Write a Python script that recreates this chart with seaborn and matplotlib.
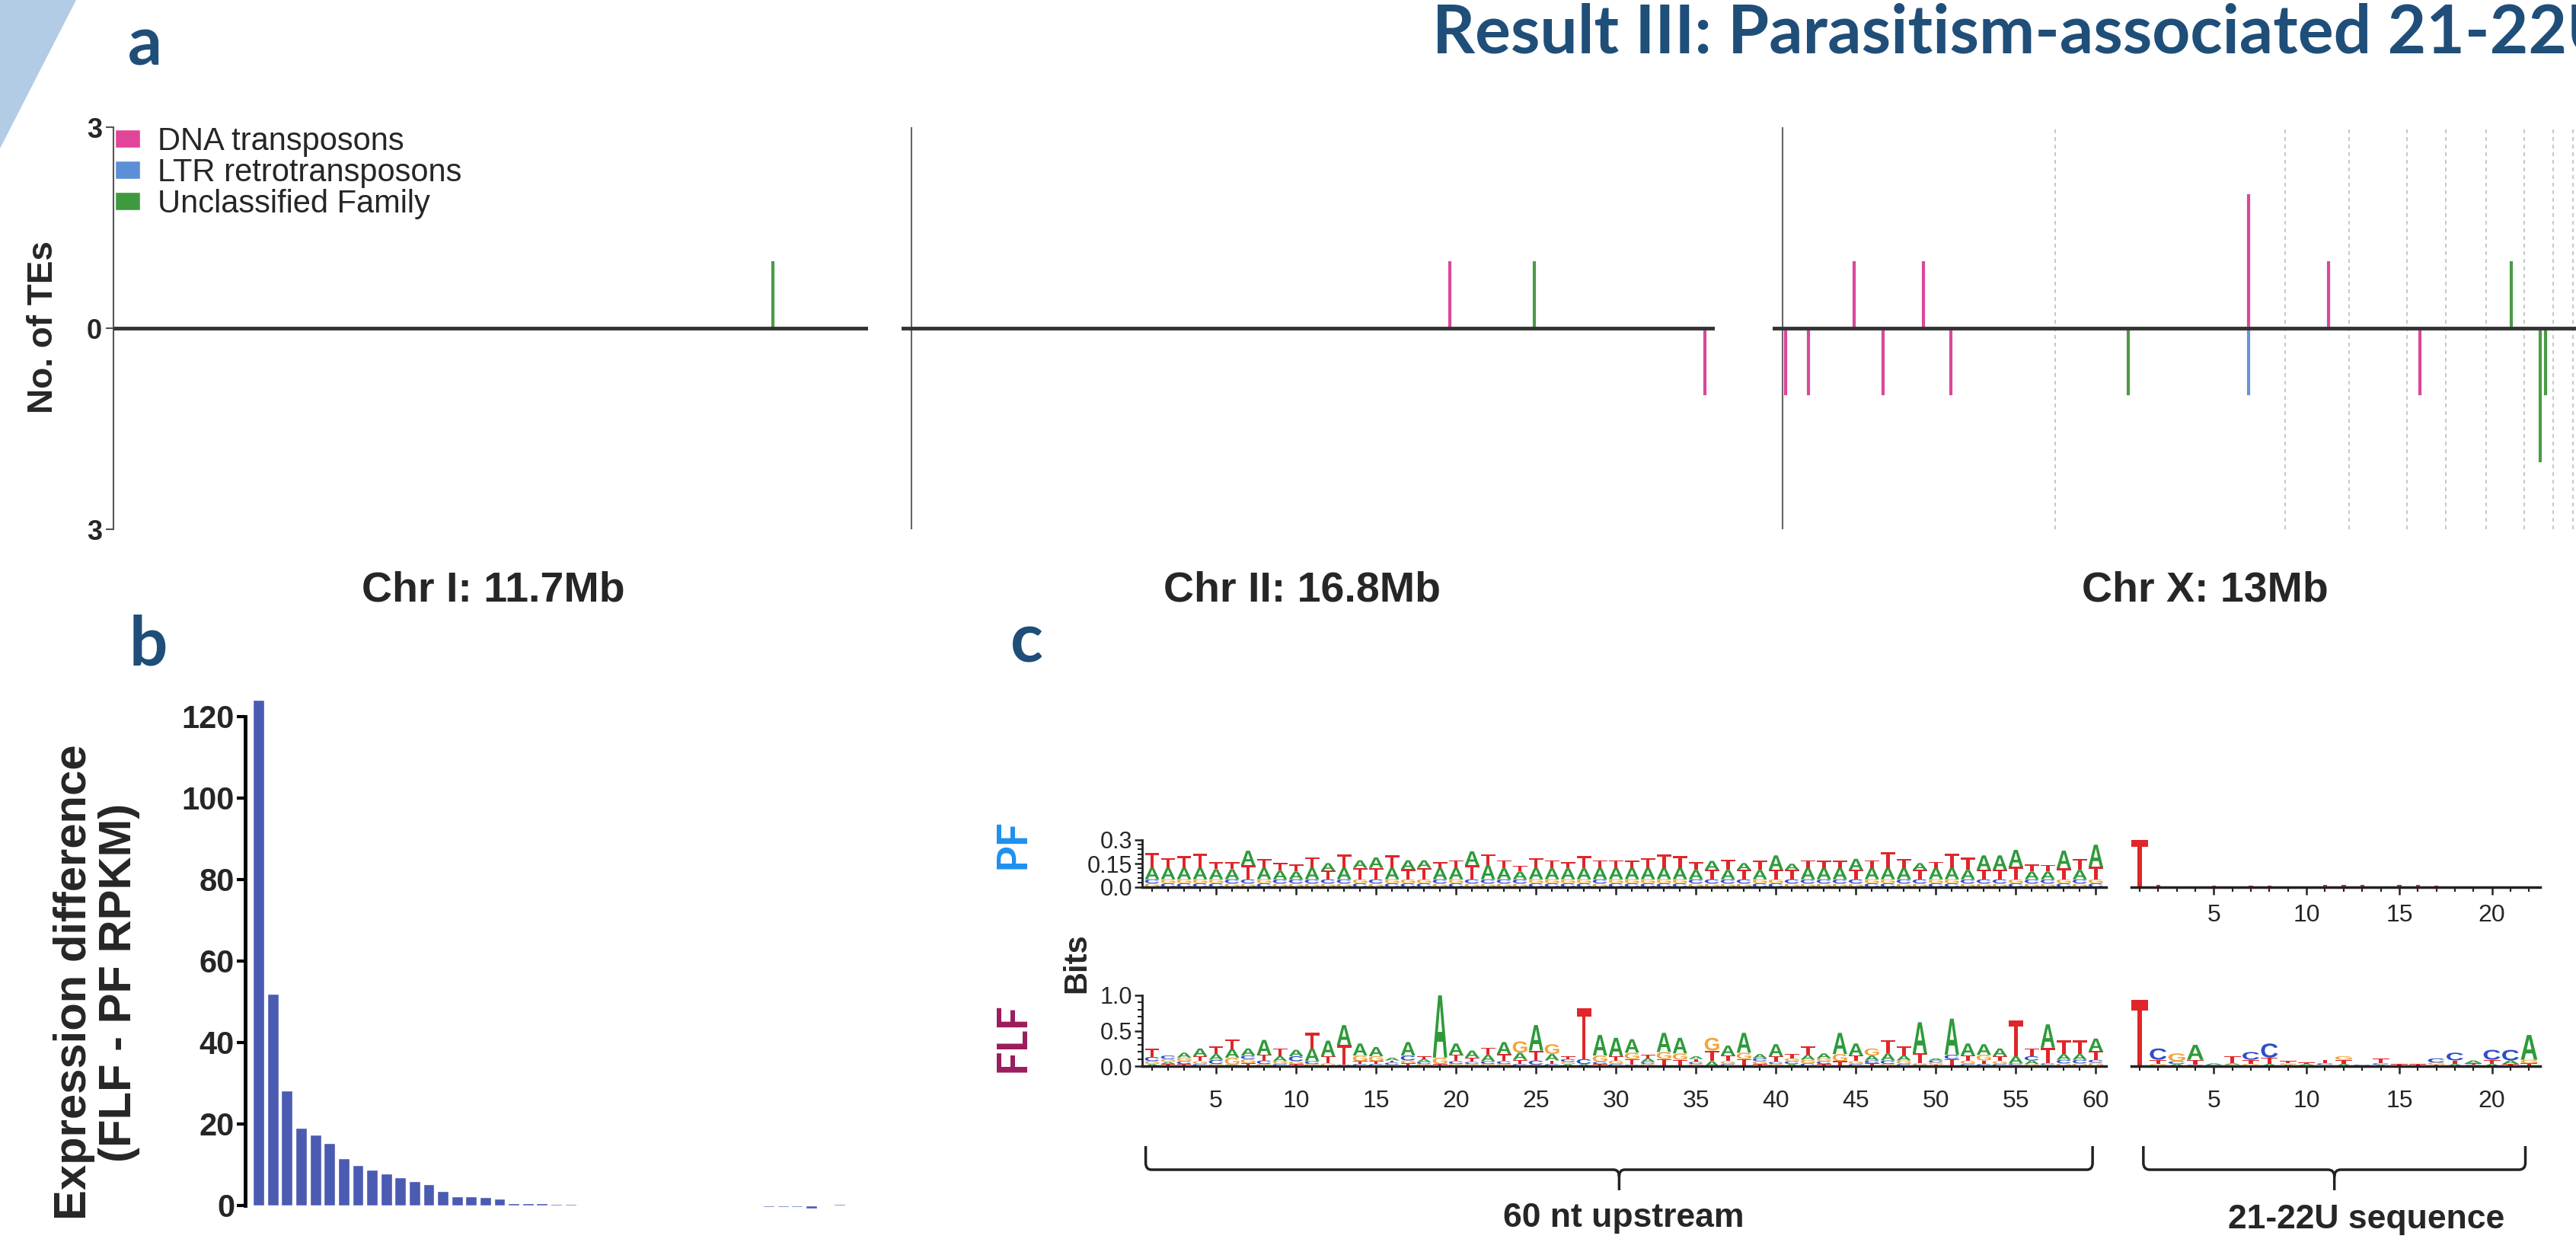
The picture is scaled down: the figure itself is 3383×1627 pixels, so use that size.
import numpy as np
import pandas as pd
import seaborn as sns
import matplotlib
matplotlib.use("Agg")
from matplotlib import pyplot as plt
from matplotlib import font_manager
from matplotlib.patches import PathPatch, Polygon, Patch
from matplotlib.path import Path
from matplotlib.textpath import TextPath
from matplotlib.font_manager import FontProperties
from matplotlib.transforms import Affine2D, blended_transform_factory
from matplotlib.ticker import MultipleLocator

W, H = 3383, 1627

# ---------------- data ----------------
TITLE = "Result III: Parasitism-associated 21-22U RNAs"

TE_TYPES = ["DNA transposons", "LTR retrotransposons", "Unclassified Family"]
TE_COLORS = {"DNA transposons": "#D9489A", "LTR retrotransposons": "#6B93D6",
             "Unclassified Family": "#4A9B47"}
LEGEND_COLORS = ["#E2449A", "#5D8FD8", "#3F9A3F"]

CHR_NAMES = ["Chr I: 11.7Mb", "Chr II: 16.8Mb", "Chr X: 13Mb"]
# TE positions (Mb), signed counts (+ above, - below the line), TE class
CHR1_POS = [10.23]
CHR1_COUNT = [1]
CHR1_TYPE = ["Unclassified Family"]
CHR2_POS = [11.26, 13.03, 16.60]
CHR2_COUNT = [1, 1, -1]
CHR2_TYPE = ["DNA transposons", "Unclassified Family", "DNA transposons"]
CHRX_POS = [0.05, 0.42, 1.15, 1.62, 2.27, 2.71, 5.57, 7.51, 7.51, 8.80, 10.27, 11.75, 12.21, 12.30]
CHRX_COUNT = [-1, -1, 1, -1, 1, -1, -1, 2, -1, 1, -1, 1, -2, -1]
CHRX_TYPE = ["DNA transposons"] * 6 + ["Unclassified Family", "DNA transposons",
             "LTR retrotransposons", "DNA transposons", "DNA transposons",
             "Unclassified Family", "Unclassified Family", "Unclassified Family"]
CHRX_DASHED = [4.39, 8.10, 9.13, 10.07, 10.69, 11.34, 11.96, 12.42, 12.74]

# panel b: FLF - PF RPKM, sorted
EXPR_DIFF = [124, 52, 28.3, 19, 17.3, 15.3, 11.6, 9.9, 8.7, 7.9, 6.9, 5.9, 5.2, 3.6,
             2.3, 2.3, 2.0, 1.6, 0.6, 0.5, 0.5, 0.4, 0.3, 0.2, 0.2, 0.2, 0.2,
             0, 0, 0, 0, -0.2, -0.2, -0.2, -0.2, -0.2, -0.3, -0.3, -0.3, -0.8, 0, 0.4]
B_TICKS = [0, 20, 40, 60, 80, 100, 120]

# panel c: PF upstream logo (bits) -- top letter, total height, top of 2nd letter
PF_TOP = "TTTTTTATTT" "TATAATAATT" "ATTTTTTTTT" "TTTTTATATA" "ATTTATTTAT" "TTAAATTATA"
PF_TOTAL = [.218, .182, .197, .215, .158, .158, .232, .180, .153, .145,
            .189, .153, .206, .171, .189, .202, .171, .171, .158, .171,
            .228, .210, .171, .136, .184, .171, .158, .197, .171, .171,
            .167, .182, .210, .197, .158, .167, .174, .153, .171, .202,
            .149, .171, .167, .167, .180, .171, .224, .177, .153, .162,
            .215, .189, .202, .202, .237, .145, .140, .232, .180, .270]
PF_MID = [.123, .123, .123, .123, .114, .114, .140, .123, .105, .100,
          .123, .105, .123, .123, .123, .123, .114, .123, .123, .123,
          .140, .140, .120, .100, .123, .120, .120, .120, .123, .123,
          .123, .123, .123, .123, .110, .110, .110, .110, .110, .110,
          .110, .123, .123, .123, .110, .123, .123, .123, .110, .123,
          .123, .110, .110, .110, .130, .100, .100, .120, .110, .130]
PF_SMALL_TOP = "CGGGGCCGCC" "CCCGCGGGCG" "CCCCGGGGCG" "GGGGCCCCGG" "CCCCCGGCCG" "GCCCGCCGCG"

# FLF upstream logo: letters bottom -> top with heights (bits)
FLF_STACKS = [
    "A.03 G.04 C.06 T.12", "T.03 A.03 G.04 C.05", "T.03 C.04 G.05 A.07", "C.03 G.04 T.07 A.11",
    "G.03 C.06 A.08 T.11", "C.02 G.10 A.12 T.14", "T.04 G.06 C.05 A.10", "G.03 C.05 T.08 A.21",
    "C.03 G.04 A.07 T.11", "T.03 G.04 C.07 A.09", "G.03 C.04 A.18 T.22", "G.04 T.10 A.22",
    "C.02 T.28 A.28", "C.03 T.04 G.08 A.17", "C.03 T.04 G.07 A.13", "G.02 C.03 T.03 A.04",
    "T.04 G.04 C.07 A.19", "G.03 C.03 A.04 T.04", "T.03 G.09 A.88", "G.03 C.04 T.09 A.16",
    "G.03 C.03 T.06 A.10", "G.03 C.04 A.09 T.10", "G.03 C.04 T.10 A.17", "C.03 T.06 A.10 G.16",
    "G.02 C.06 T.14 A.36", "C.03 T.05 A.09 G.14", "A.03 G.03 C.04 T.04", "A.03 C.07 T.72",
    "T.03 C.03 G.09 A.29", "C.03 G.05 T.06 A.26", "C.02 T.08 G.09 A.19", "G.03 C.03 A.05 T.05",
    "T.10 G.10 A.27", "T.09 G.09 A.22", "G.03 C.03 T.04 A.04", "A.07 T.15 G.18",
    "C.03 G.04 T.08 A.14", "T.10 G.09 A.28", "T.03 G.04 C.04 A.06", "G.03 C.03 T.08 A.17",
    "A.03 C.04 G.04 T.06", "C.04 G.05 A.07 T.12", "T.03 C.04 G.04 A.07", "T.07 G.10 A.30",
    "C.03 G.04 T.08 A.17", "T.04 C.04 A.07 G.10", "G.03 C.05 A.10 T.19", "C.03 G.05 A.07 T.13",
    "C.02 G.02 T.14 A.44", "T.02 G.03 C.03 A.03", "T.10 C.06 A.51", "C.03 G.05 T.07 A.17",
    "C.03 T.05 G.08 A.15", "C.03 G.04 T.07 A.11", "G.02 C.02 A.10 T.50", "G.03 A.05 C.06 T.11",
    "G.02 C.02 T.22 A.33", "G.04 C.05 A.08 T.20", "G.04 C.05 A.08 T.20", "G.05 C.04 T.12 A.18",
]

# 21-22U sequence logos
PF_SEQ_STACKS = [
    "T.305", "C.004 T.010", "T.006", "T.004", "A.004 T.006", "T.006", "G.004 T.008",
    "A.004 T.008", "T.004", "T.004", "C.004 T.010", "A.004 T.010", "C.004 T.010", "T.006",
    "C.004 T.010", "A.004 T.010", "C.004 T.008", "T.006", "T.004", "T.006", "T.006", "T.004",
]
FLF_SEQ_STACKS = [
    "T.94", "G.03 T.06 C.16", "A.03 C.04 G.11", "C.02 T.07 A.21", "T.01 C.01 A.02",
    "G.02 A.02 T.10", "G.03 T.06 C.11", "A.03 T.09 C.20", "A.02 G.02 T.03", "C.01 A.02 T.02",
    "G.02 C.02 T.05", "A.03 T.06 G.05", "T.01 C.01", "A.02 C.02 T.07", "C.01 T.02",
    "A.01 T.02", "T.02 G.03 C.06", "A.03 T.05 C.11", "C.02 T.02 A.04", "A.03 T.06 C.14",
    "T.03 A.05 C.15", "T.04 G.05 A.35",
]

LETTER_COLORS = {"A": "#2E9A3A", "C": "#2D4FC8", "G": "#F2A33A", "T": "#E0262A"}

# ---------------- style ----------------
sns.set_theme(style="white")
plt.rcParams["font.family"] = ["Liberation Sans", "DejaVu Sans"]
names = {f.name for f in font_manager.fontManager.ttflist}
NARROW = "Liberation Sans Narrow" if "Liberation Sans Narrow" in names else "Liberation Sans"
NAVY = "#1F4E79"

fig = plt.figure(figsize=(W / 100, H / 100), dpi=100)
fig.patch.set_facecolor("white")


def ax_at(x0, y0, x1, y1):
    ax = fig.add_axes([x0 / W, 1 - y1 / H, (x1 - x0) / W, (y1 - y0) / H])
    ax.set_facecolor("none")
    return ax


def ftext(x, y, s, **kw):
    return fig.text(x / W, 1 - y / H, s, **kw)


# slide decoration + title
over = ax_at(0, 0, W, H)
over.set_xlim(0, W)
over.set_ylim(H, 0)
over.axis("off")
over.add_patch(Polygon([(0, 0), (100, 0), (0, 195)], closed=True, fc="#B3CCE6", ec="none"))
ftext(1881, 70, TITLE, fontsize=63, fontweight="bold", color=NAVY,
      family=["Lato", "DejaVu Sans"], va="baseline", ha="left")
for lab, x, y in [("a", 168, 85), ("b", 170, 874), ("c", 1327, 870)]:
    ftext(x, y, lab, fontsize=64, fontweight="bold", color=NAVY,
          family=["Lato", "DejaVu Sans"], va="baseline", ha="left")

# ---------------- panel a ----------------
ax1 = ax_at(149, 167, 1140, 695)
ax2 = ax_at(1184, 167, 2252, 695)
ax3 = ax_at(2328, 167, 3383, 695)
chr_data = [(ax1, (0, 11.7), CHR1_POS, CHR1_COUNT, CHR1_TYPE),
            (ax2, (-0.21, 16.8), CHR2_POS, CHR2_COUNT, CHR2_TYPE),
            (ax3, (-0.16, 12.79), CHRX_POS, CHRX_COUNT, CHRX_TYPE)]
for ax, xl, pos, cnt, typ in chr_data:
    ax.set_xlim(*xl)
    ax.set_ylim(-3, 3)
    for s in ax.spines.values():
        s.set_visible(False)
    ax.set_xticks([])
    ax.set_yticks([])
    ax.vlines(pos, 0, cnt, colors=[TE_COLORS[t] for t in typ], lw=3, zorder=2)
    ax.axhline(0, color="#333333", lw=3.5, zorder=3)
    if ax is not ax1:
        ax.axvline(0, color="#666666", lw=1.5, zorder=1)

ax3.vlines(CHRX_DASHED, -3, 3, colors="#BDBDBD", lw=1.2, linestyles=(0, (3, 3)), zorder=1)

ax1.spines["left"].set_visible(True)
ax1.spines["left"].set_color("#555555")
ax1.spines["left"].set_linewidth(1.5)
ax1.set_yticks([-3, 0, 3], labels=["3", "0", "3"])
ax1.tick_params(axis="y", length=7, width=1.5, color="#555555", labelsize=26, pad=4, left=True)
for t in ax1.get_yticklabels():
    t.set_fontfamily(NARROW)
    t.set_fontweight("bold")

handles = [Patch(facecolor=c, label=t) for t, c in zip(TE_TYPES, LEGEND_COLORS)]
ax1.legend(handles=handles, loc="upper left", bbox_to_anchor=(151 / W, 1 - 166 / H),
           bbox_transform=fig.transFigure, frameon=False,
           prop={"family": NARROW, "size": 30}, handlelength=0.8,
           handleheight=0.5, handletextpad=0.55, labelspacing=0.02, borderpad=0, borderaxespad=0)

ftext(57, 430, "No. of TEs", fontsize=33, fontweight="bold", rotation=90, ha="center", va="center")
for name, x in zip(CHR_NAMES, [648, 1710, 2896]):
    ftext(x, 775, name, fontsize=40, fontweight="bold", ha="center", va="center")

# ---------------- panel b ----------------
axb = ax_at(322, 920, 1125, 1594)
df_b = pd.DataFrame({"rank": np.arange(len(EXPR_DIFF)), "diff": EXPR_DIFF})
sns.barplot(data=df_b, x="rank", y="diff", color="#4B5BB2", saturation=1, width=0.8,
            errorbar=None, ax=axb)
axb.set_xlim(-0.95, 42.2)
axb.set_ylim(-2.06, 123.9)
axb.set_xticks([])
axb.set_xlabel("")
axb.set_ylabel("")
sns.despine(ax=axb, bottom=True)
axb.spines["left"].set_linewidth(3.5)
axb.spines["left"].set_color("black")
axb.spines["left"].set_bounds(0, 120)
axb.set_yticks(B_TICKS)
axb.tick_params(axis="y", length=8, width=3, color="black", labelsize=30, pad=2, left=True)
for t in axb.get_yticklabels():
    t.set_fontfamily(NARROW)
    t.set_fontweight("bold")
ftext(127, 1290, "Expression difference\n(FLF - PF RPKM)", fontsize=43, fontweight="bold",
      rotation=90, ha="center", va="center", multialignment="center", linespacing=1.1)

# ---------------- panel c ----------------
LOGO_FONT = FontProperties(family="Liberation Sans", weight="bold")


def draw_letter(ax, letter, x, y, w, h):
    tp = TextPath((0, 0), letter, size=1, prop=LOGO_FONT)
    bb = tp.get_extents()
    tr = Affine2D().translate(-bb.x0, -bb.y0).scale(w / bb.width, h / bb.height).translate(x - w / 2, y)
    ax.add_patch(PathPatch(tr.transform_path(tp), fc=LETTER_COLORS[letter], ec="none", lw=0))


def draw_logo(ax, stacks, w=0.9):
    for pos, stack in enumerate(stacks, start=1):
        y = 0.0
        for tok in stack.split():
            h = float(tok[1:])
            draw_letter(ax, tok[0], pos, y, w, h)
            y += h


def style_logo(ax, xlim, ylim, yticks=None, ylabels=None, yminor=None, xlabels=True, xpad=8):
    ax.set_xlim(*xlim)
    ax.set_ylim(*ylim)
    for s in ["top", "right"]:
        ax.spines[s].set_visible(False)
    ax.spines["bottom"].set_linewidth(2.5)
    ax.spines["bottom"].set_color("#222222")
    ax.spines["bottom"].set_zorder(5)
    ax.xaxis.set_major_locator(MultipleLocator(5))
    ax.xaxis.set_minor_locator(MultipleLocator(1))
    ax.tick_params(axis="x", which="major", length=7, width=1.8, color="#222222",
                   labelsize=23, pad=xpad, bottom=True, labelbottom=xlabels)
    ax.tick_params(axis="x", which="minor", length=4, width=1.5, color="#222222",
                   pad=xpad, bottom=True)
    if yticks is None:
        ax.spines["left"].set_visible(False)
        ax.set_yticks([])
    else:
        ax.spines["left"].set_linewidth(2)
        ax.spines["left"].set_color("#222222")
        ax.spines["left"].set_bounds(ylim[0], ylim[1])
        ax.set_yticks(yticks, labels=ylabels)
        ax.yaxis.set_minor_locator(MultipleLocator(yminor))
        ax.tick_params(axis="y", which="major", length=7, width=1.8, color="#222222",
                       labelsize=22, pad=2, left=True)
        ax.tick_params(axis="y", which="minor", length=4, width=1.5, color="#222222", left=True)


PF_STACKS = []
for i in range(60):
    top = PF_TOP[i]
    mid = "A" if top == "T" else "T"
    up = PF_SMALL_TOP[i]
    low = "G" if up == "C" else "C"
    PF_STACKS.append(f"{low}.025 {up}.025 {mid}{PF_MID[i] - 0.05:.3f} {top}{PF_TOTAL[i] - PF_MID[i]:.3f}")

ax_pf = ax_at(1500, 1103, 2766, 1165)
ax_flf = ax_at(1500, 1307, 2766, 1400)
ax_pfs = ax_at(2799, 1103, 3336, 1165)
ax_flfs = ax_at(2799, 1307, 3336, 1400)

style_logo(ax_pf, (0.38, 60.65), (0, 0.3), [0, 0.15, 0.3], ["0.0", "0.15", "0.3"], 0.03, xlabels=False)
style_logo(ax_flf, (0.38, 60.65), (0, 1.0), [0, 0.5, 1.0], ["0.0", "0.5", "1.0"], 0.1, xpad=15)
style_logo(ax_pfs, (0.55, 22.6), (0, 0.3), xpad=9)
style_logo(ax_flfs, (0.55, 22.6), (0, 1.0), xpad=15)

draw_logo(ax_pf, PF_STACKS)
draw_logo(ax_flf, FLF_STACKS)
draw_logo(ax_pfs, PF_SEQ_STACKS)
draw_logo(ax_flfs, FLF_SEQ_STACKS)


def brace(ax, x0, x1, ytop=1505, yh=1536, ytip=1563, r=0.35, k=9):
    # x in the logo's position units, y in figure pixels
    xc = (x0 + x1) / 2
    verts = [(x0, ytop), (x0, yh - k), (x0, yh), (x0 + r, yh), (xc - r, yh), (xc, yh), (xc, yh + k),
             (xc, ytip), (xc, yh + k), (xc, yh), (xc + r, yh), (x1 - r, yh), (x1, yh), (x1, yh - k),
             (x1, ytop)]
    codes = [Path.MOVETO, Path.LINETO, Path.CURVE3, Path.CURVE3, Path.LINETO, Path.CURVE3, Path.CURVE3,
             Path.LINETO, Path.MOVETO, Path.CURVE3, Path.CURVE3, Path.LINETO, Path.CURVE3, Path.CURVE3,
             Path.LINETO]
    tr = blended_transform_factory(ax.transData, over.transData)
    ax.add_patch(PathPatch(Path(verts, codes), fc="none", ec="#222222", lw=2.5,
                           transform=tr, clip_on=False))


brace(ax_flf, 0.6, 59.8)
brace(ax_flfs, 1.2, 21.8)

ftext(2132, 1600, "60 nt upstream", fontsize=32, fontweight="bold", ha="center", va="center")
ftext(3108, 1602, "21-22U sequence", fontsize=32, fontweight="bold", ha="center", va="center")
ftext(1414, 1265, "Bits", fontsize=30, fontweight="bold", rotation=90, ha="center", va="center")
ftext(1329, 1108, "PF", fontsize=40, fontweight="bold", rotation=90, ha="center", va="center",
      color="#1E90F0", family=["Lato", "DejaVu Sans"])
ftext(1329, 1362, "FLF", fontsize=40, fontweight="bold", rotation=90, ha="center", va="center",
      color="#9B1C5C", family=["Lato", "DejaVu Sans"])

fig.savefig("out.png", dpi=100, facecolor="white")
